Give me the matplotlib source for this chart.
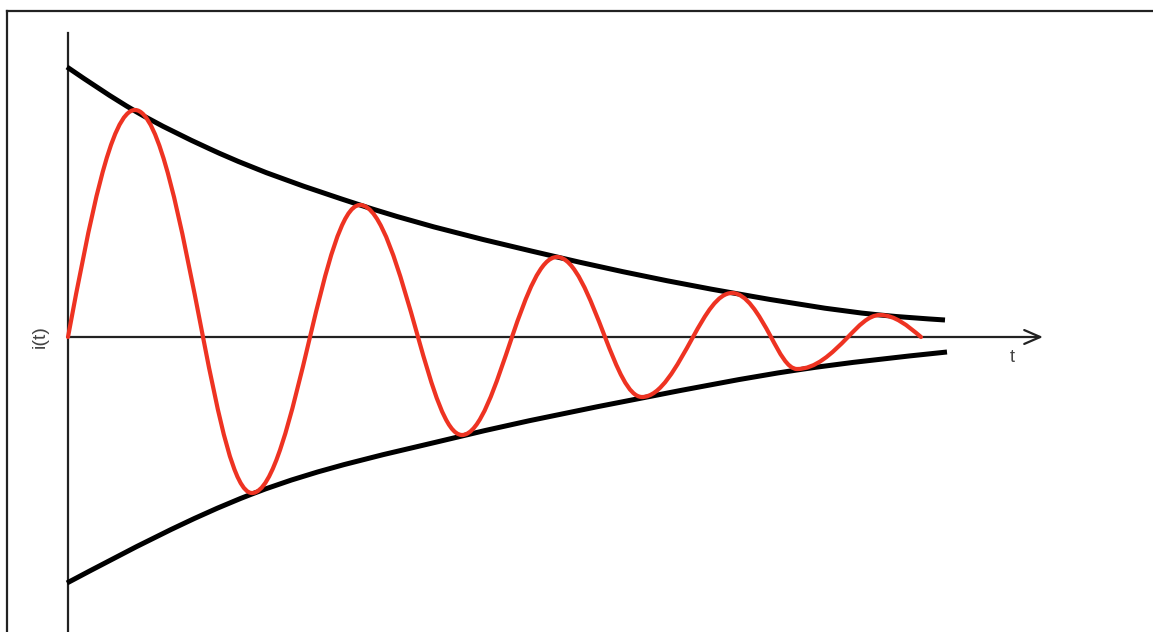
import numpy as np
import matplotlib
matplotlib.use("Agg")
import matplotlib.pyplot as plt
from matplotlib.path import Path
from matplotlib.patches import PathPatch
from matplotlib.lines import Line2D

# key points of the damped current i(t): zero crossings and extrema
curve_t = [1, 68, 136, 185, 243, 293, 351, 395, 445, 490, 538, 575, 626, 665, 704, 730, 781, 813, 854]
curve_i = [0, 227, 0, -156, 0, 132, 0, -98, 0, 80, 0, -60, 0, 44, 0, -32, 0, 22, 0]

# decay envelopes
upper_t = [0, 68, 143, 293, 490, 666, 813, 878]
upper_i = [270, 226, 188, 132, 80, 44, 22, 17]
lower_t = [0, 185, 395, 575, 730, 880]
lower_i = [-246, -157, -99, -61, -33, -15]

RED = "#ee3322"
DARK = "#222222"


def smooth_path(xs, ys):
    # hermite curve through the points, drawn as cubic bezier segments
    x = np.asarray(xs, float)
    y = np.asarray(ys, float)
    h = np.diff(x)
    d = np.diff(y) / h
    m = np.empty_like(x)
    m[1:-1] = (d[:-1] * h[1:] + d[1:] * h[:-1]) / (h[:-1] + h[1:])
    m[0] = (3 * d[0] - m[1]) / 2
    m[-1] = (3 * d[-1] - m[-2]) / 2
    verts = [(x[0], y[0])]
    codes = [Path.MOVETO]
    for k in range(len(x) - 1):
        verts += [(x[k] + h[k] / 3, y[k] + m[k] * h[k] / 3),
                  (x[k + 1] - h[k] / 3, y[k + 1] - m[k + 1] * h[k] / 3),
                  (x[k + 1], y[k + 1])]
        codes += [Path.CURVE4] * 3
    return Path(verts, codes)


def wave_path(ts, vals):
    # sine-like quarter arcs between zero crossings and extrema
    n = len(ts)
    slopes = {}
    for k in range(0, n, 2):
        s = []
        if k > 0:
            s.append(-np.pi / 2 * vals[k - 1] / (ts[k] - ts[k - 1]))
        if k < n - 1:
            s.append(np.pi / 2 * vals[k + 1] / (ts[k + 1] - ts[k]))
        slopes[k] = np.mean(s)
    verts = [(ts[0], vals[0])]
    codes = [Path.MOVETO]
    for k in range(n - 1):
        if k % 2 == 0:
            z, e = k, k + 1
            dx = ts[e] - ts[z]
            c1 = (ts[z] + 0.326 * dx, slopes[z] * 0.326 * dx)
            c2 = (ts[z] + 0.638 * dx, vals[e])
            verts += [c1, c2, (ts[e], vals[e])]
        else:
            e, z = k, k + 1
            dx = ts[z] - ts[e]
            c1 = (ts[z] - 0.638 * dx, vals[e])
            c2 = (ts[z] - 0.326 * dx, -slopes[z] * 0.326 * dx)
            verts += [c1, c2, (ts[z], vals[z])]
        codes += [Path.CURVE4] * 3
    return Path(verts, codes)


fig = plt.figure(figsize=(11.53, 6.32), dpi=100)
ax = fig.add_axes([0, 0, 1, 1])
ax.axis("off")
ax.set_xlim(-67, 1086)
ax.set_ylim(-295, 337)

# axes
ax.plot([0.5, 0.5], [-300, 304], color=DARK, lw=1.6)
ax.annotate("", xy=(976, 0), xytext=(0, 0),
            arrowprops=dict(arrowstyle="->,head_length=1.15,head_width=0.5",
                            color=DARK, lw=1.6, shrinkA=0, shrinkB=0))

# envelopes
for ts, vs in [(upper_t, upper_i), (lower_t, lower_i)]:
    ax.add_patch(PathPatch(smooth_path(ts, vs), fill=False, edgecolor="black",
                           lw=3.6, capstyle="butt", zorder=3))

# damped oscillation
ax.add_patch(PathPatch(wave_path(curve_t, curve_i), fill=False, edgecolor=RED,
                       lw=3.0, capstyle="round", joinstyle="round", zorder=4))

ax.text(945, -21, "t", ha="center", va="center", fontsize=13,
        color="#444444", family="Liberation Sans")
ax.text(-27, 0, "i(t)", ha="center", va="center", rotation=90, fontsize=14,
        color="#444444", family="Liberation Sans")

# frame of the original screenshot (top and left edges only)
fig.add_artist(Line2D([7 / 1153, 1], [1 - 11 / 632] * 2, transform=fig.transFigure,
                      color=DARK, lw=1.6))
fig.add_artist(Line2D([7 / 1153] * 2, [0, 1 - 11 / 632], transform=fig.transFigure,
                      color=DARK, lw=1.6))

fig.savefig("out.png", dpi=100)
